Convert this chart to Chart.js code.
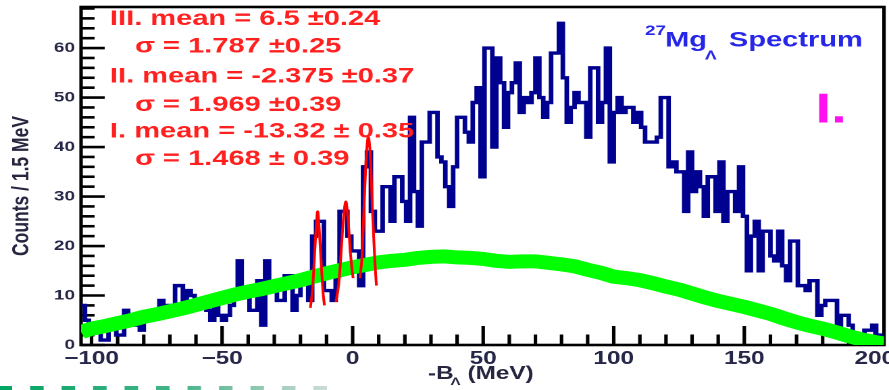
<!DOCTYPE html>
<html><head><meta charset="utf-8">
<script src="https://cdn.jsdelivr.net/npm/chart.js@4.4.1/dist/chart.umd.min.js"></script>
<style>html,body{margin:0;padding:0;background:#fff;overflow:hidden}
#c{display:block}</style>
</head><body>
<canvas id="c" width="658" height="390" style="width:889px;height:390px"></canvas>
<script>
// ---- data ----
const binLow = -104, binWidth = 1.5;
const blueCounts = [
 8,5,4,4,3,1,1,4,4,2,
 2,7,6,5,4,3,5,5,7,6,
 9,8,6,8,12,12,8,11,10,9,
 9,8,7,5,9,6,5,6,8,10,
 17,11,10,7,7,13,4,17,11,11,
 9,9,14,14,7,10,14,14,9,22,
 25,25,11,11,9,14,27,27,22,19,
 19,12,36,39,27,23,23,32,32,25,
 34,34,29,25,46,31,24,41,41,47,
 47,38,37,32,28,36,46,46,43,41,
 49,52,34,60,60,40,58,53,44,51,
 53,57,47,50,49,51,58,50,46,49,
 59,59,65,54,45,48,51,49,49,42,
 56,56,45,49,60,37,47,50,47,48,
 48,45,47,44,41,41,41,42,50,50,
 36,37,35,35,27,39,31,35,32,26,
 34,34,27,37,25,31,31,27,36,26,
 15,22,25,15,23,23,18,17,23,16,
 13,21,21,12,12,11,13,13,6,8,
 9,9,9,4,6,6,4,2,2,2,
 3,3,4,2,2];
const greenX = [-104,-100,-95,-90,-85,-80,-75,-70,-65,-60,-55,-50,-45,-40,-35,-30,-25,-20,-15,-10,-5,0,5,10,15,20,25,30,35,40,45,50,55,60,65,70,75,80,85,90,95,100,105,110,115,120,125,130,135,140,145,150,155,160,165,170,175,180,185,190,195,200,203.5];
const greenY = [2.6,3.3,3.8,4.4,5.0,5.7,6.2,6.8,7.4,8.1,8.8,9.5,10.2,10.8,11.3,11.9,12.5,13.1,13.8,14.5,15.1,15.7,16.2,16.7,17.0,17.2,17.6,17.8,17.9,17.7,17.6,17.4,17.0,16.8,16.9,16.9,16.6,16.3,15.9,15.2,14.6,13.8,13.5,13.1,12.5,11.8,11.2,10.4,9.6,8.9,8.3,7.7,7.0,6.3,5.4,4.6,3.9,3.3,2.6,1.8,1.1,0.6,0.3];
const peakI_X = [-16.2,-15.4,-14.7,-14.0,-13.4,-12.8,-12.1,-11.4,-10.8];
const peakI_Y = [7.5,11,17,23.5,27,23.5,17,11,8];
const peakII_X = [-6.4,-5.4,-4.5,-3.6,-2.6,-1.7,-0.9,-0.3,0.2];
const peakII_Y = [8.7,12,18,25,29,25,19,15.5,13.5];
const peakIII_X = [2.8,3.6,4.3,5.1,6.0,6.9,7.6,8.4,9.1];
const peakIII_Y = [13.5,18,27,37,42,37,27,18,12];
const xTickValues = [-100,-50,0,50,100,150,200];
const xMajorTicks = [-50,0,50,100,150,200];
const yTickValues = [0,10,20,30,40,50,60];
const fitLabels = ['III. mean = 6.5 \u00b10.24','\u03c3 = 1.787 \u00b10.25','II. mean = -2.375 \u00b10.37','\u03c3 = 1.969 \u00b10.39','I. mean = -13.32 \u00b1 0.35','\u03c3 = 1.468 \u00b1 0.39'];

// ---- build library data ----
const histPts = [];
blueCounts.forEach((v,i)=>{ const lo = binLow + i*binWidth; histPts.push({x:lo,y:v},{x:lo+binWidth,y:v}); });
const zip = (xs,ys)=>xs.map((x,i)=>({x, y: ys[i]}));
const FONT = '"Liberation Sans", Arial, Helvetica, sans-serif';

function drawTicks(chart) {
  const {ctx, chartArea: a} = chart;
  const x = chart.scales.x, y = chart.scales.y;
  ctx.save();
  ctx.strokeStyle = '#000000'; ctx.lineWidth = 2.6; ctx.lineCap = 'butt'; ctx.setLineDash([]);
  for (let v = -100; v <= 200; v += 10) {
    const px = x.getPixelForValue(v);
    const len = xMajorTicks.indexOf(v) >= 0 ? 19 : 10.5;
    ctx.beginPath(); ctx.moveTo(px, a.bottom); ctx.lineTo(px, a.bottom - len); ctx.stroke();
  }
  for (let v = 0; v <= 68; v += 2) {
    const py = y.getPixelForValue(v);
    const len = (v % 10 === 0) ? 17.5 : 10;
    ctx.beginPath(); ctx.moveTo(a.left, py); ctx.lineTo(a.left + len, py); ctx.stroke();
  }
  ctx.lineWidth = 2.6;
  ctx.strokeRect(a.left, a.top, a.right - a.left, a.bottom - a.top);
  ctx.restore();
}

const overlay = {
  id: 'overlay',
  beforeDatasetsDraw(chart) { drawTicks(chart); },
  afterDraw(chart) {
    const {ctx} = chart;
    ctx.save();
    ctx.textBaseline = 'alphabetic'; ctx.textAlign = 'left';
    ctx.fillStyle = '#ff2020';
    ctx.font = 'bold 21.5px ' + FONT;
    const lx = [81.4, 100, 81.4, 100, 81.4, 100];
    const ly = [25, 52.5, 82.5, 111, 137.5, 165];
    fitLabels.forEach((t,i)=>ctx.fillText(t, lx[i], ly[i]));
    ctx.fillStyle = '#2626e6';
    ctx.font = 'bold 14px ' + FONT; ctx.fillText('27', 477.4, 35);
    ctx.font = 'bold 21.5px ' + FONT; ctx.fillText('Mg', 492.2, 46.7);
    ctx.font = 'bold 13px ' + FONT; ctx.fillText('\u039b', 521.8, 59.5);
    ctx.font = 'bold 21.5px ' + FONT; ctx.fillText('Spectrum', 539.5, 46.7);
    ctx.fillStyle = '#ff10f0';
    ctx.font = 'bold 42px ' + FONT; ctx.fillText('I.', 603.5, 122.5);
    ctx.fillStyle = '#262640';
    ctx.font = 'bold 18px ' + FONT; ctx.fillText('-B', 316.8, 379);
    ctx.font = 'bold 11px ' + FONT; ctx.fillText('\u039b', 333.5, 385);
    ctx.font = 'bold 18px ' + FONT; ctx.fillText(' (MeV)', 341, 379);
    ctx.save();
    ctx.translate(16.3, 186); ctx.rotate(-Math.PI/2);
    ctx.textAlign = 'center'; ctx.textBaseline = 'middle';
    ctx.font = 'bold 17.5px ' + FONT; ctx.fillText('Counts / 1.5 MeV', 0, 0);
    ctx.restore();
    const g = ctx.createLinearGradient(0,0,245,0);
    g.addColorStop(0,'#00a564'); g.addColorStop(0.55,'#49b58a'); g.addColorStop(1,'#d2dcd8');
    ctx.strokeStyle = g; ctx.lineWidth = 4; ctx.setLineDash([10, 13.3]); ctx.lineDashOffset = 1;
    ctx.beginPath(); ctx.moveTo(0, 388); ctx.lineTo(245, 388); ctx.stroke();
    ctx.restore();
  }
};

const fmt = v => v < 0 ? '\u2212' + Math.abs(v) : String(v);
const redDs = (xs, ys) => ({data: zip(xs, ys), showLine: true, borderColor: '#ff0000', borderWidth: 2, pointRadius: 0, cubicInterpolationMode: 'monotone', order: 0});

new Chart(document.getElementById('c'), {
  type: 'scatter',
  data: { datasets: [
    redDs(peakI_X, peakI_Y), redDs(peakII_X, peakII_Y), redDs(peakIII_X, peakIII_Y),
    {data: zip(greenX, greenY), showLine: true, borderColor: '#00ff00', borderWidth: 14, pointRadius: 0, tension: 0, order: 3},
    {data: histPts, showLine: true, borderColor: '#000090', borderWidth: 3.4, pointRadius: 0, tension: 0, borderJoinStyle: 'miter', order: 4}
  ]},
  options: {
    responsive: false, animation: false, devicePixelRatio: 2, events: [],
    layout: {padding: {top: 7, right: 3.7, left: 0, bottom: 0}},
    plugins: {legend: {display: false}, tooltip: {enabled: false}},
    scales: {
      x: {type: 'linear', min: -104, max: 203.5,
          grid: {display: false, drawTicks: false}, border: {display: false},
          afterBuildTicks: s => { s.ticks = xTickValues.map(v => ({value: v})); },
          afterFit: s => { s.height = 45; s.paddingLeft = 0; s.paddingRight = 0; },
          ticks: {padding: 3, autoSkip: false, maxRotation: 0, color: '#262648',
                  font: {family: FONT, size: 18, weight: 'bold'}, callback: v => fmt(v)}},
      y: {type: 'linear', min: 0, max: 68.3,
          grid: {display: false, drawTicks: false}, border: {display: false},
          afterBuildTicks: s => { s.ticks = yTickValues.map(v => ({value: v})); },
          afterFit: s => { s.width = 60; s.paddingTop = 0; s.paddingBottom = 0; },
          ticks: {padding: 4.5, autoSkip: false, color: '#262648',
                  font: {family: FONT, size: 14, weight: 'bold'}, callback: v => String(v)}}
    }
  },
  plugins: [overlay]
});
</script>
</body></html>
